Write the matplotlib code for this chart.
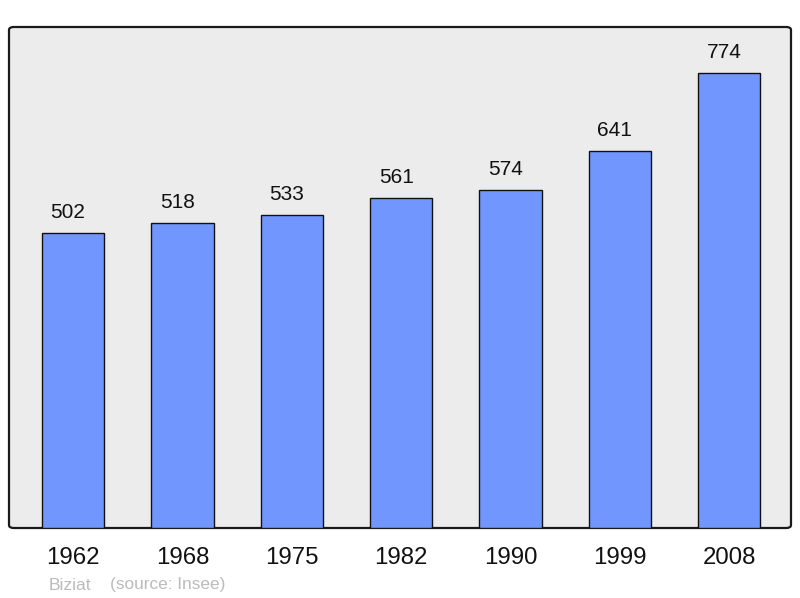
import matplotlib
matplotlib.use("Agg")
import matplotlib.pyplot as plt
from matplotlib.patches import FancyBboxPatch

years = ["1962", "1968", "1975", "1982", "1990", "1999", "2008"]
population = [502, 518, 533, 561, 574, 641, 774]
commune = "Biziat"
source = "(source: Insee)"

plt.rcParams['font.family'] = ['Liberation Sans', 'DejaVu Sans']

fig = plt.figure(figsize=(8, 5.98), dpi=100)
ax = fig.add_axes([9/800, 70/598, 782/800, 501/598])
ax.set_facecolor('none')
for s in ax.spines.values():
    s.set_visible(False)

bg = FancyBboxPatch((0, 0), 1, 1, boxstyle="round,pad=0,rounding_size=0.006",
                    transform=ax.transAxes, facecolor='#ececec', edgecolor='#1a1a1a',
                    linewidth=1.6, zorder=0, clip_on=False)
ax.add_patch(bg)

x = list(range(len(years)))
ax.bar(x, population, width=0.57, color='#7197ff', edgecolor='#111111', linewidth=1.0, zorder=2)
for xi, v in zip(x, population):
    ax.text(xi - 0.045, v + 35, str(v), ha='center', va='center', fontsize=15, color='#111111', zorder=3)

ax.set_xlim(-0.585, 6.565)
ax.set_ylim(0, 852)
ax.set_yticks([])
ax.set_xticks(x)
ax.set_xticklabels(years, fontsize=17.3)
ax.tick_params(axis='x', length=0, pad=14, colors='#111111')

fig.text(49/800, 1 - 585/598, commune, fontsize=12.6, color='#bbbbbb', ha='left', va='center')
fig.text(110/800, 1 - 585/598, source, fontsize=12.4, color='#bbbbbb', ha='left', va='center')

fig.savefig("out.png", dpi=100, facecolor='white')
